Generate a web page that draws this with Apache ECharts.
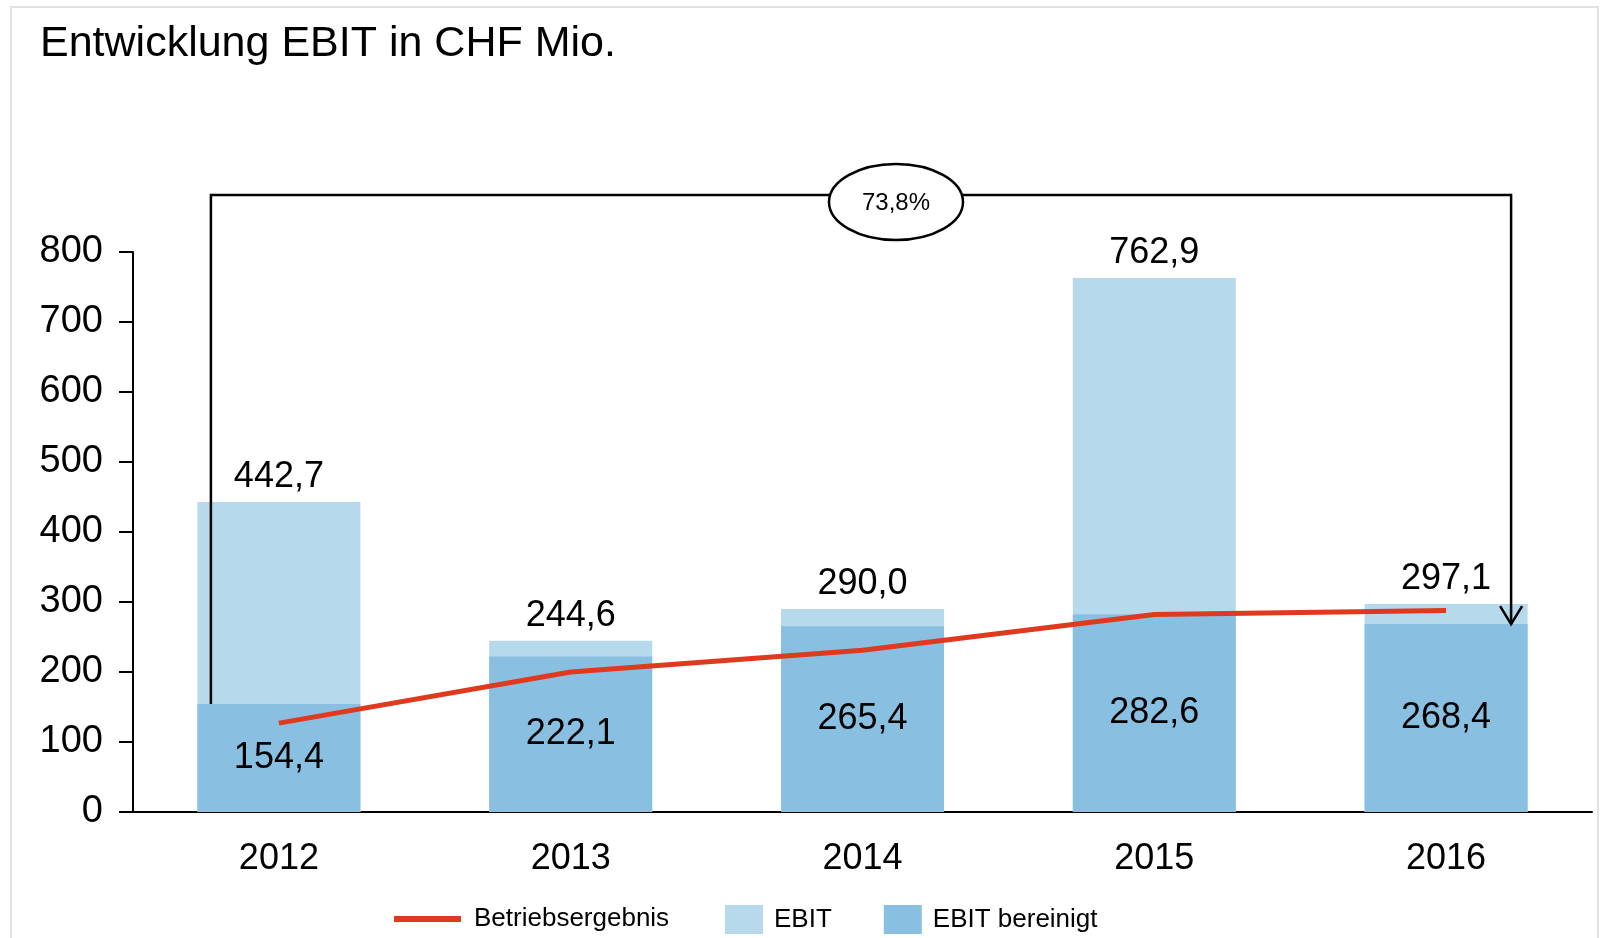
<!DOCTYPE html>
<html>
<head>
<meta charset="utf-8">
<title>Entwicklung EBIT in CHF Mio.</title>
<script src="https://cdn.jsdelivr.net/npm/echarts@6/dist/echarts.min.js"></script>
<style>
  html, body { margin: 0; padding: 0; background: #fff; }
  #chart { width: 1604px; height: 938px; }
</style>
</head>
<body>
<div id="chart"></div>
<script>
const years = ['2012', '2013', '2014', '2015', '2016'];
const ebit = [442.7, 244.6, 290.0, 762.9, 297.1];
const ebitBereinigt = [154.4, 222.1, 265.4, 282.6, 268.4];
const betriebsergebnis = [127, 200, 231, 282, 288];

const font = "'Liberation Sans', Arial, sans-serif";
const colorEbit = '#B6D9EC';
const colorBereinigt = '#89C0E2';
const colorLine = '#E03A1E';

const fmt = (v) => v.toFixed(1).replace('.', ',');

const setEchart = (myChart) => {
  let option = {
    animation: false,
    textStyle: { fontFamily: font },
    title: {
      text: 'Entwicklung EBIT in CHF Mio.',
      left: 40,
      top: 23,
      padding: 0,
      textStyle: { fontFamily: font, fontSize: 43, fontWeight: 'normal', color: '#000' },
    },
    grid: {
      left: 133,
      right: 12,
      top: 252,
      bottom: 126,
      containLabel: false,
      outerBoundsMode: 'none',
    },
    legend: [
      {
        data: ['Betriebsergebnis'],
        left: 394,
        top: 906,
        padding: 0,
        icon: 'rect',
        itemWidth: 67,
        itemHeight: 6,
        textStyle: { fontFamily: font, fontSize: 26, color: '#000', padding: [0, 0, 0, 8] },
      },
      {
        data: ['EBIT', 'EBIT bereinigt'],
        left: 725,
        top: 905,
        padding: 0,
        icon: 'rect',
        itemWidth: 38,
        itemHeight: 29,
        itemGap: 52,
        textStyle: { fontFamily: font, fontSize: 26, color: '#000', padding: [0, 0, 0, 6] },
      },
    ],
    xAxis: {
      type: 'category',
      data: years,
      axisLine: { show: true, lineStyle: { color: '#000', width: 2 } },
      axisTick: { show: false },
      axisLabel: { fontFamily: font, fontSize: 36, color: '#000', margin: 29 },
    },
    yAxis: {
      type: 'value',
      min: 0,
      max: 800,
      interval: 100,
      axisLine: { show: true, lineStyle: { color: '#000', width: 2 } },
      axisTick: { show: true, length: 14, lineStyle: { color: '#000', width: 2 } },
      axisLabel: { fontFamily: font, fontSize: 38, color: '#000', margin: 30 },
      splitLine: { show: false },
    },
    series: [
      {
        name: 'EBIT',
        type: 'bar',
        data: ebit,
        barWidth: 163,
        barGap: '-100%',
        itemStyle: { color: colorEbit },
        label: {
          show: true,
          position: 'top',
          distance: 7,
          fontFamily: font,
          fontSize: 36,
          color: '#000',
          formatter: (p) => fmt(p.value),
        },
        z: 2,
      },
      {
        name: 'EBIT bereinigt',
        type: 'bar',
        data: ebitBereinigt,
        barWidth: 163,
        barGap: '-100%',
        itemStyle: { color: colorBereinigt },
        label: {
          show: true,
          position: 'inside',
          fontFamily: font,
          fontSize: 36,
          color: '#000',
          textBorderWidth: 0,
          formatter: (p) => fmt(p.value),
        },
        z: 3,
      },
      {
        name: 'Betriebsergebnis',
        type: 'line',
        data: betriebsergebnis,
        symbol: 'none',
        lineStyle: { color: colorLine, width: 5, cap: 'butt' },
        itemStyle: { color: colorLine },
        z: 5,
      },
    ],
  };
  myChart.setOption(option);

  // Klammer mit Pfeil: EBIT bereinigt 2012 -> 2016
  const toPx = (i, v) => myChart.convertToPixel({ xAxisIndex: 0, yAxisIndex: 0 }, [i, v]);
  const last = years.length - 1;
  const pStart = toPx(0, ebitBereinigt[0]);
  const pEnd = toPx(last, ebitBereinigt[last]);
  const xL = pStart[0] - 68;
  const xR = pEnd[0] + 65;
  const yTop = 195;
  const growth = (ebitBereinigt[last] / ebitBereinigt[0] - 1) * 100;

  myChart.setOption({
    graphic: [
      {
        type: 'rect',
        shape: { x: 11, y: 7, width: 1587, height: 1000 },
        style: { fill: 'none', stroke: '#E2E2E2', lineWidth: 2 },
        z: -10,
      },
      {
        type: 'polyline',
        shape: { points: [[xL, pStart[1]], [xL, yTop], [xR, yTop], [xR, pEnd[1]]] },
        style: { fill: 'none', stroke: '#000', lineWidth: 2.5 },
        z: 10,
      },
      {
        type: 'polyline',
        shape: { points: [[xR - 11, pEnd[1] - 18], [xR, pEnd[1]], [xR + 11, pEnd[1] - 18]] },
        style: { fill: 'none', stroke: '#000', lineWidth: 2.5 },
        z: 10,
      },
      {
        type: 'ellipse',
        shape: { cx: 896, cy: 202, rx: 67, ry: 38 },
        style: { fill: '#fff', stroke: '#000', lineWidth: 2.5 },
        z: 11,
      },
      {
        type: 'text',
        x: 896,
        y: 203,
        style: {
          text: fmt(growth) + '%',
          fontFamily: font,
          fontSize: 24,
          fill: '#000',
          align: 'center',
          verticalAlign: 'middle',
        },
        z: 12,
      },
    ],
  });
};

let myChart = echarts.init(document.getElementById('chart'));
setEchart(myChart);
</script>
</body>
</html>
